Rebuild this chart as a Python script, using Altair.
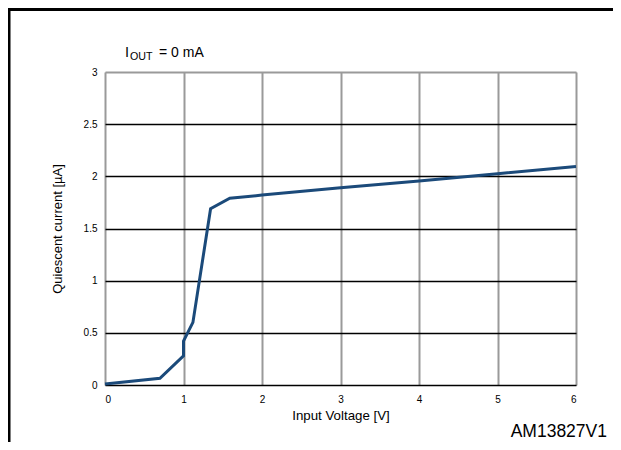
import altair as alt
import pandas as pd

voltage = [0.0, 0.7, 1.0, 1.0, 1.12, 1.345, 1.59, 2.0, 3.0, 4.0, 5.0, 6.0]
current = [0.01, 0.065, 0.28, 0.42, 0.6, 1.69, 1.79, 1.82, 1.89, 1.955, 2.025, 2.095]
x_ticks = [0, 1, 2, 3, 4, 5, 6]
y_ticks = [0, 0.5, 1, 1.5, 2, 2.5, 3]

df = pd.DataFrame({"v": voltage, "i": current})
FONT = "Liberation Sans"

W, H = 471, 313
PL, PT = 97, 64
TOTAL_H = 434
TOTAL_W = 605

line = alt.Chart(df).mark_line(color="#1b4a7a", strokeWidth=3).encode(
    x=alt.X("v:Q", scale=alt.Scale(domain=[0, 6], nice=False),
            axis=alt.Axis(values=x_ticks, title="Input Voltage [V]", format="d",
                          grid=True, gridColor="#9a9a9a", gridWidth=2,
                          domain=False, ticks=False, labelPadding=9,
                          labelFontSize=10, labelColor="black", labelFont=FONT,
                          titleFont=FONT, titleFontSize=13.3, titleFontWeight="normal",
                          titleColor="black", titlePadding=4)),
    y=alt.Y("i:Q", scale=alt.Scale(domain=[0, 3], nice=False),
            axis=alt.Axis(values=y_ticks, title="Quiescent current [µA]",
                          labelExpr="format(datum.value, '~g')",
                          grid=True,
                          gridColor={"condition": {"test": "datum.value === 3", "value": "#9a9a9a"}, "value": "black"},
                          gridWidth={"condition": {"test": "datum.value === 3", "value": 2}, "value": 1.5},
                          domain=False, ticks=False, labelPadding=8,
                          labelFontSize=10, labelColor="black", labelFont=FONT,
                          titleFont=FONT, titleFontSize=13, titleFontWeight="normal",
                          titleColor="black", titlePadding=19)),
)

base = alt.Chart(pd.DataFrame({"a": [0]}))

frame_top = base.mark_rect(color="black", strokeWidth=0).encode(
    x=alt.value(-PL), x2=alt.value(TOTAL_W - PL), y=alt.value(-PT), y2=alt.value(-PT + 3))
frame_left = base.mark_rect(color="black", strokeWidth=0).encode(
    x=alt.value(-PL), x2=alt.value(-PL + 2.5), y=alt.value(-PT), y2=alt.value(TOTAL_H - PT))

t1 = base.mark_text(text="I", font=FONT, fontSize=14.5, align="left", baseline="alphabetic", color="black").encode(
    x=alt.value(125 - 8 - PL), y=alt.value(57 - 8 - PT))
t2 = base.mark_text(text="OUT", font=FONT, fontSize=10.7, align="left", baseline="alphabetic", color="black").encode(
    x=alt.value(130 - 8 - PL), y=alt.value(60 - 8 - PT))
t3 = base.mark_text(text="= 0 mA", font=FONT, fontSize=14, align="left", baseline="alphabetic", color="black").encode(
    x=alt.value(159 - 8 - PL), y=alt.value(57 - 8 - PT))
t4 = base.mark_text(text="AM13827V1", font=FONT, fontSize=17.5, align="right", baseline="alphabetic", color="black").encode(
    x=alt.value(607 - 8 - PL), y=alt.value(437 - 8 - PT))

chart = alt.layer(line, frame_top, frame_left, t1, t2, t3, t4).properties(
    width=W, height=H,
    autosize=alt.AutoSizeParams(type="none"),
    padding={"left": PL, "top": PT, "right": TOTAL_W - PL - W, "bottom": TOTAL_H - PT - H},
).configure_view(stroke=None).configure(background="white")

chart.save("out.html", embed_options={"renderer": "svg", "actions": False})
